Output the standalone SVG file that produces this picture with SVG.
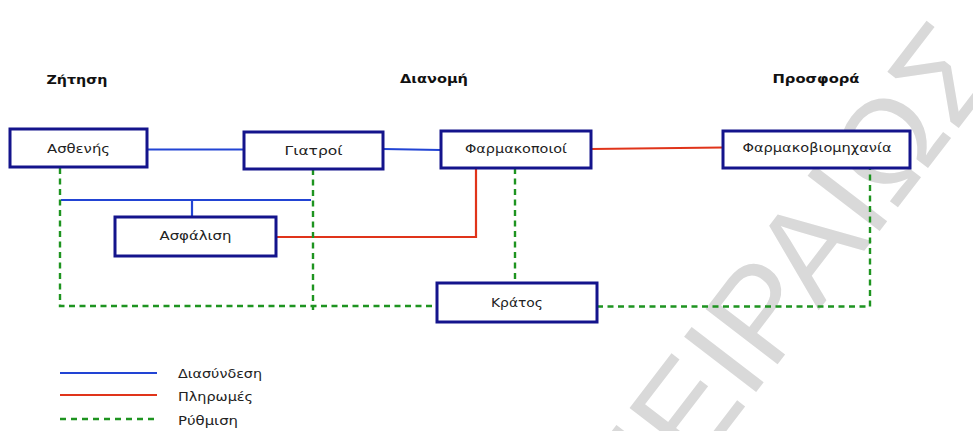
<svg xmlns="http://www.w3.org/2000/svg" width="973" height="431" viewBox="0 0 973 431">
<style>
.box{fill:#ffffff;stroke:#14148c;stroke-width:3}
.lbl{font-family:"DejaVu Sans","Noto Sans",sans-serif;font-size:12.5px;fill:#222;text-anchor:middle}
.hdr{font-family:"DejaVu Sans","Noto Sans",sans-serif;font-size:12.5px;font-weight:bold;fill:#111;text-anchor:middle}
.leg{font-family:"DejaVu Sans","Noto Sans",sans-serif;font-size:12px;fill:#222}
.blue{stroke:#2244d4;stroke-width:2.2;fill:none}
.red{stroke:#e0341a;stroke-width:2.2;fill:none}
.green{stroke:#1e9420;stroke-width:2.4;fill:none;stroke-dasharray:6 4.5}
.wm{font-family:"Liberation Sans",Arial,sans-serif;font-size:132px;fill:#d9d9d9}
</style>
<rect width="973" height="431" fill="#ffffff"/>
<g id="watermark">
<text class="wm" transform="translate(760,387) rotate(-52.5)" x="-202" y="0">ΠΕΙΡΑΙΩΣ</text>
</g>
<g id="headers">
<text class="hdr" x="77" y="84" textLength="61" lengthAdjust="spacingAndGlyphs">Ζήτηση</text>
<text class="hdr" x="434" y="83" textLength="68" lengthAdjust="spacingAndGlyphs">Διανομή</text>
<text class="hdr" x="816" y="83" textLength="87" lengthAdjust="spacingAndGlyphs">Προσφορά</text>
</g>
<g id="connectors">
<line class="blue" x1="147" y1="149.5" x2="244" y2="149.5"/>
<line class="blue" x1="383" y1="149" x2="441" y2="150"/>
<line class="blue" x1="61" y1="200" x2="311" y2="200"/>
<line class="blue" x1="192" y1="200" x2="192" y2="217"/>
<line class="red" x1="591" y1="149" x2="723" y2="147.5"/>
<polyline class="red" points="276,237 476,237 476,168"/>
<polyline class="green" points="60,168 60,306 437,306"/>
<line class="green" x1="313" y1="169" x2="313" y2="310"/>
<line class="green" x1="515" y1="168" x2="515" y2="283"/>
<polyline class="green" points="597,306.5 870,306.5 870,168"/>
</g>
<g id="n-astheneis"><rect class="box" x="10" y="129" width="137" height="38"/><text class="lbl" x="78.5" y="153" textLength="63" lengthAdjust="spacingAndGlyphs">Ασθενής</text></g>
<g id="n-giatroi"><rect class="box" x="244" y="132" width="139" height="37"/><text class="lbl" x="313.5" y="155" textLength="58" lengthAdjust="spacingAndGlyphs">Γιατροί</text></g>
<g id="n-farmakopoioi"><rect class="box" x="441" y="131" width="150" height="37"/><text class="lbl" x="516" y="153" textLength="102" lengthAdjust="spacingAndGlyphs">Φαρμακοποιοί</text></g>
<g id="n-farmakoviomichania"><rect class="box" x="723" y="131" width="187" height="37"/><text class="lbl" x="817" y="152" textLength="149" lengthAdjust="spacingAndGlyphs">Φαρμακοβιομηχανία</text></g>
<g id="n-asfalisi"><rect class="box" x="115" y="217" width="161" height="39"/><text class="lbl" x="195.5" y="240" textLength="72" lengthAdjust="spacingAndGlyphs">Ασφάλιση</text></g>
<g id="n-kratos"><rect class="box" x="437" y="283" width="160" height="39"/><text class="lbl" x="517" y="307" textLength="52" lengthAdjust="spacingAndGlyphs">Κράτος</text></g>
<g id="legend">
<line class="blue" x1="60" y1="373" x2="157" y2="373"/>
<line class="red" x1="60" y1="395" x2="157" y2="395"/>
<line class="green" x1="60" y1="419" x2="157" y2="419" style="stroke-dasharray:6 5"/>
<text class="leg" x="178" y="378" textLength="84" lengthAdjust="spacingAndGlyphs">Διασύνδεση</text>
<text class="leg" x="178" y="401" textLength="75" lengthAdjust="spacingAndGlyphs">Πληρωμές</text>
<text class="leg" x="178" y="425" textLength="60" lengthAdjust="spacingAndGlyphs">Ρύθμιση</text>
</g>
</svg>
